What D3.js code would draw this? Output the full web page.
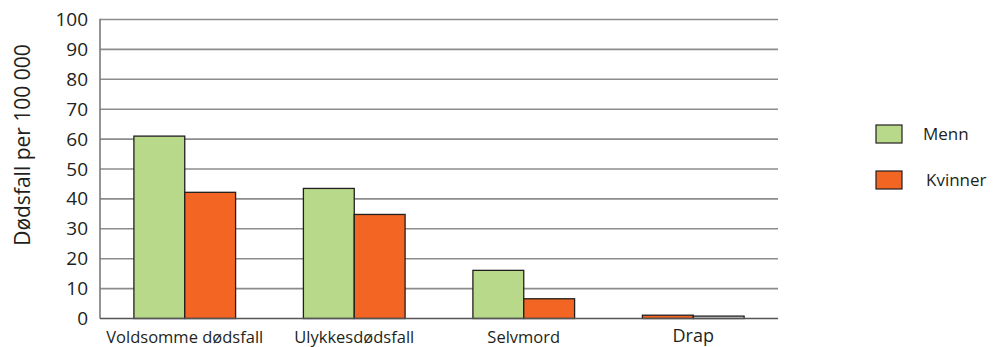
<!DOCTYPE html>
<html>
<head>
<meta charset="utf-8">
<script src="https://cdn.jsdelivr.net/npm/d3@7"></script>
<style>
  html, body { margin: 0; padding: 0; background: #fff; }
  svg { display: block; font-family: "Open Sans", "Noto Sans", sans-serif; }
</style>
</head>
<body>
<svg id="chart" width="995" height="347"></svg>
<script>
// Death rates per 100 000, by cause and sex
const categories = ["Voldsomme dødsfall", "Ulykkesdødsfall", "Selvmord", "Drap"];
const seriesNames = ["Menn", "Kvinner"];
const menn = [61, 43.5, 16.1, 1.1];
const kvinner = [42.2, 34.8, 6.6, 0.8];
const yTicks = [0, 10, 20, 30, 40, 50, 60, 70, 80, 90, 100];
const seriesColors = ["#b9d98a", "#f26522"];
// the "Drap" pair is printed with its own fills
const drapColors = ["#f26522", "#e4e4e4"];

const svg = d3.select("#chart");
const margin = { left: 100, right: 217, top: 19.5, bottom: 28.5 };
const W = 995, H = 347;

const x = d3.scaleBand().domain(categories)
  .range([margin.left, W - margin.right]).paddingInner(0).paddingOuter(0);
const x1 = d3.scaleBand().domain(seriesNames)
  .range([0, x.bandwidth() * 0.6]).padding(0);
const y = d3.scaleLinear().domain([0, 100]).range([H - margin.bottom, margin.top]);

// horizontal gridlines
svg.append("g").selectAll("line").data(yTicks.filter(d => d > 0)).join("line")
  .attr("x1", margin.left).attr("x2", W - margin.right)
  .attr("y1", d => y(d)).attr("y2", d => y(d))
  .attr("stroke", "#8c8c8c").attr("stroke-width", 1.6);

// left axis line
svg.append("line")
  .attr("x1", margin.left).attr("x2", margin.left)
  .attr("y1", y(100) - 0.8).attr("y2", y(0))
  .attr("stroke", "#7a7a7a").attr("stroke-width", 1.6);

// y tick labels
const yAxis = d3.axisLeft(y).tickValues(yTicks).tickSize(0).tickPadding(12);
const gy = svg.append("g").attr("transform", `translate(${margin.left},0)`).call(yAxis);
gy.select(".domain").remove();
gy.selectAll("text").attr("font-size", 19).attr("fill", "#231f20")
  .attr("font-family", "'Open Sans', sans-serif");

// y title
svg.append("text")
  .attr("transform", `translate(30,145) rotate(-90)`)
  .attr("text-anchor", "middle").attr("font-size", 21).attr("fill", "#231f20")
  .text("Dødsfall per 100 000");

// bars
const rows = categories.map((c, i) => ({ c, vals: [menn[i], kvinner[i]] }));
const groups = svg.append("g").selectAll("g").data(rows).join("g")
  .attr("transform", d => `translate(${x(d.c) + x.bandwidth() * 0.2},0)`);
groups.selectAll("rect").data(d => d.vals.map((v, j) => ({ c: d.c, v, s: seriesNames[j], j })))
  .join("rect")
  .attr("x", d => x1(d.s))
  .attr("width", x1.bandwidth())
  .attr("y", d => y(d.v))
  .attr("height", d => y(0) - y(d.v))
  .attr("fill", d => d.c === "Drap" ? drapColors[d.j] : seriesColors[d.j])
  .attr("stroke", "#231f20").attr("stroke-width", 1.3);

// baseline
svg.append("line")
  .attr("x1", margin.left).attr("x2", W - margin.right)
  .attr("y1", y(0)).attr("y2", y(0))
  .attr("stroke", "#555").attr("stroke-width", 1.6);

// category labels
svg.append("g").selectAll("text").data(categories).join("text")
  .attr("x", d => x(d) + x.bandwidth() / 2)
  .attr("y", d => d === "Drap" ? 342 : 343)
  .attr("text-anchor", "middle")
  .attr("font-size", d => d === "Drap" ? 18 : 16.5)
  .attr("fill", "#231f20")
  .text(d => d);

// legend
const legend = svg.append("g").selectAll("g").data(seriesNames).join("g")
  .attr("transform", (d, i) => `translate(876,${125 + i * 46})`);
legend.append("rect").attr("width", 26).attr("height", 18)
  .attr("fill", (d, i) => seriesColors[i]).attr("stroke", "#231f20").attr("stroke-width", 1.2);
legend.append("text").attr("x", (d, i) => i === 0 ? 47 : 50).attr("y", 15)
  .attr("font-size", 17).attr("fill", "#231f20").text(d => d);
</script>
</body>
</html>
